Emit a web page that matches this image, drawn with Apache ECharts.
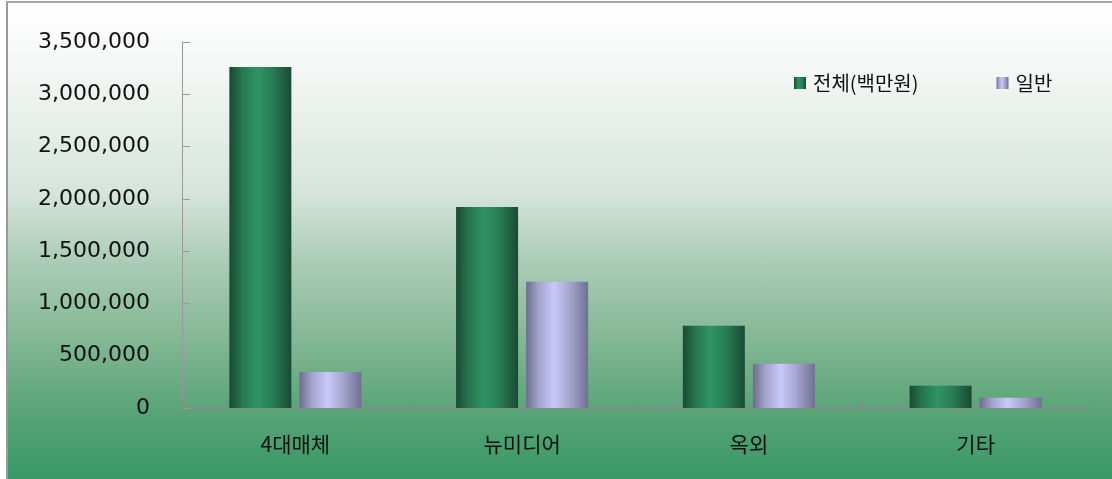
<!DOCTYPE html>
<html>
<head>
<meta charset="utf-8">
<script src="https://cdn.jsdelivr.net/npm/echarts@6/dist/echarts.min.js"></script>
<style>
html,body{margin:0;padding:0;background:#fff;}
#bg{position:absolute;left:6px;top:1px;width:1106px;height:478px;border-left:2px solid #9a9a9a;border-top:2px solid #a8a8a8;box-sizing:border-box;
background:linear-gradient(to bottom,#ffffff 0%,#f3f6f4 15%,#d6e4dc 40%,#a9cbb5 55%,#86b896 70%,#56a275 87%,#389966 100%);}
#chart{position:absolute;left:0;top:0;width:1112px;height:479px;}
</style>
</head>
<body>
<div id="bg"></div>
<div id="chart"></div>
<script>
const categories = ['4대매체', '뉴미디어', '옥외', '기타'];
const seriesNames = ['전체(백만원)', '일반'];
const totalValues = [3260000, 1923000, 786000, 213000];
const generalValues = [344000, 1207000, 423000, 98000];

const font = '"Noto Sans CJK KR", "Noto Sans", sans-serif';
const numFont = '"DejaVu Sans", sans-serif';
function hGrad(stops){
  return {type:'linear',x:0,y:0,x2:1,y2:0,colorStops:stops.map(s=>({offset:s[0],color:s[1]}))};
}
const greenGrad = hGrad([[0,'#1a4a33'],[0.2,'#257650'],[0.45,'#2f9462'],[0.7,'#287c55'],[1,'#1a4a34']]);
const purpleGrad = hGrad([[0,'#6c6c8c'],[0.2,'#a3a3cc'],[0.45,'#c9c9fb'],[0.7,'#a5a5cf'],[1,'#707094']]);

const chart = echarts.init(document.getElementById('chart'));
chart.setOption({
  backgroundColor: 'transparent',
  animation: false,
  textStyle: {fontFamily: font},
  grid: {left: 182, right: 23, top: 42, bottom: 71},
  legend: {
    data: seriesNames,
    left: 789, top: 68,
    itemWidth: 12, itemHeight: 12, itemGap: 78,
    icon: 'rect',
    textStyle: {fontSize: 20, color: '#111', fontFamily: font, padding: [0, 0, 0, 2]}
  },
  xAxis: {
    type: 'category',
    data: categories,
    axisLine: {lineStyle: {color: '#888', width: 2}},
    axisTick: {show: true, inside: true, length: 8, lineStyle: {color: '#888'}},
    axisLabel: {fontSize: 21, color: '#111', margin: 26, fontFamily: font}
  },
  yAxis: {
    type: 'value',
    min: 0, max: 3500000, interval: 500000,
    axisLine: {show: true, lineStyle: {color: '#999', width: 1}},
    axisTick: {show: true, inside: true, length: 8, lineStyle: {color: '#999'}},
    splitLine: {show: false},
    axisLabel: {
      fontSize: 22, color: '#111', margin: 32, fontFamily: numFont, padding: [4, 0, 0, 0],
      formatter: v => v.toLocaleString('en-US')
    }
  },
  series: [
    {name: seriesNames[0], type: 'bar', data: totalValues, barWidth: 62, barGap: '13%',
     itemStyle: {color: greenGrad}},
    {name: seriesNames[1], type: 'bar', data: generalValues, barWidth: 62,
     itemStyle: {color: purpleGrad}}
  ]
});
</script>
</body>
</html>
